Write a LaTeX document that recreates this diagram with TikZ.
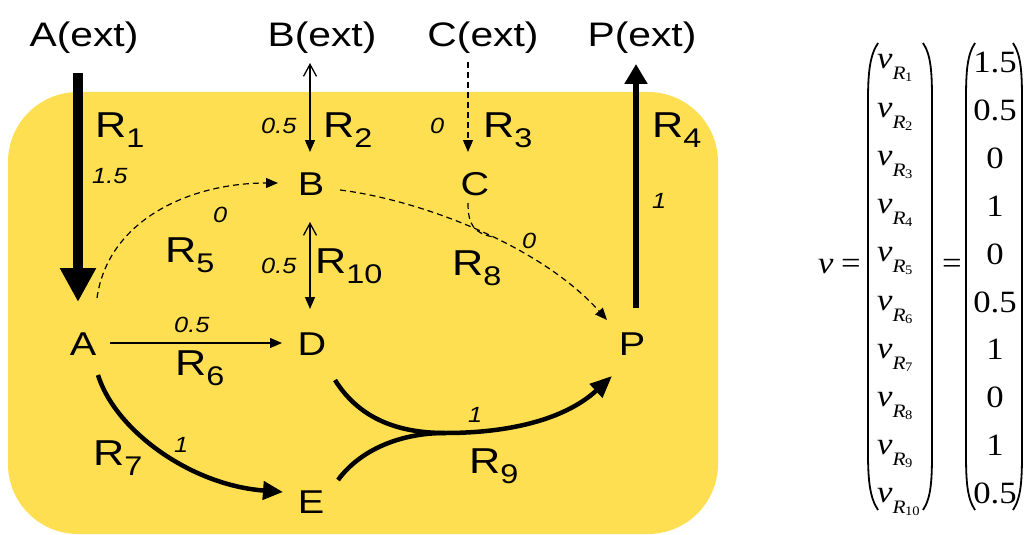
\documentclass[tikz,border=0pt]{standalone}
\usepackage{fontspec}
\setmainfont{Liberation Sans}
\newfontfamily\tms{Liberation Serif}
\usetikzlibrary{arrows.meta,calc}
\definecolor{cellbg}{HTML}{FFDF52}
\newcommand{\Rsub}[1]{R\raisebox{-10pt}{\fontsize{27}{30}\selectfont #1}}
\newcommand{\vR}[1]{{\tms\itshape v\raisebox{-11pt}{\fontsize{19}{20}\selectfont R\kern-0.5pt\raisebox{-2pt}{\upshape\fontsize{13}{14}\selectfont #1}}}}
\begin{document}
\begin{tikzpicture}[x=1pt,y=-1pt,
  ext/.style={font=\fontsize{34}{40}\selectfont, xscale=1.2, anchor=base, inner sep=0pt},
  met/.style={font=\fontsize{33}{40}\selectfont, xscale=1.2, anchor=base, inner sep=0pt},
  rl/.style={font=\fontsize{36}{40}\selectfont, xscale=1.2, anchor=base west, inner sep=0pt},
  flux/.style={font=\fontsize{22}{24}\selectfont\itshape, xscale=1.15, anchor=base west, inner sep=0pt},
  mt/.style={font=\tms\fontsize{31}{36}\selectfont, xscale=1.12, inner sep=0pt},
  thin/.style={line width=1.3pt},
  dsh/.style={line width=1.2pt, dash pattern=on 6pt off 4pt},
  open/.style={{Straight Barb[length=12pt,width=13pt]}-{Triangle[length=12pt,width=10pt]}},
  small/.style={-{Triangle[length=12pt,width=10pt]}},
  par/.style={line width=1.8pt}]
\useasboundingbox (0,0) rectangle (1026,535);
\fill[cellbg, rounded corners=70pt] (8,92) rectangle (718,534);

% external metabolites
\node[ext] (Aext) at (84,47) {A(ext)};
\node[ext] (Bext) at (322,47) {B(ext)};
\node[ext] (Cext) at (483,47) {C(ext)};
\node[ext] (Pext) at (642,47) {P(ext)};

% internal metabolites
\node[met] (A) at (83,355) {A};
\node[met] (D) at (312,355) {D};
\node[met] (P) at (632,355) {P};
\node[met] (B) at (311,195) {B};
\node[met] (C) at (475,195) {C};
\node[met] (E) at (311,513) {E};

% R1
\draw[line width=10pt, -{Triangle[length=34pt,width=34pt]}] ($(Aext.base)+(-6,26)$) -- ($(A.base)+(-5,-53)$);
% R2
\draw[thin, open] ($(Bext.base)+(-12,16)$) -- ($(B.base)+(-1,-43)$);
% R3
\draw[dsh, small] ($(Cext.base)+(-15,15)$) -- ($(C.base)+(-7,-43)$);
% R4
\draw[line width=5.5pt, -{Triangle[length=20pt,width=22pt]}] ($(P.base)+(4,-47)$) -- ($(Pext.base)+(-6,17)$);
% R5
\draw[dsh, small] ($(A.base)+(14,-57)$) .. controls (108,220) and (190,183) .. ($(B.base)+(-33,-12)$);
% R10
\draw[thin, open] ($(B.base)+(-1,27)$) -- ($(D.base)+(-2,-46)$);
% R6
\draw[thin, small] ($(A.base)+(27,-12)$) -- ($(D.base)+(-30,-12)$);
% R7
\draw[line width=4.5pt, -{Triangle[length=20pt,width=18pt]}] ($(A.base)+(15,20)$) .. controls (115,430) and (190,485) .. ($(E.base)+(-28,-21)$);
% R8
\coordinate (j8) at (493,237);
\draw[dsh, small] ($(B.base)+(29,-5)$) .. controls (420,200) and (540,245) .. ($(P.base)+(-25,-35)$);
\draw[dsh] ($(C.base)+(-7,8)$) .. controls (468,225) and (474,233) .. (j8);
% R9
\coordinate (j9) at (445,433);
\draw[line width=4.5pt] ($(D.base)+(23,25)$) .. controls (360,420) and (400,433) .. (j9);
\draw[line width=4.5pt] ($(E.base)+(27,-33)$) .. controls (360,450) and (400,433) .. (j9);
\draw[line width=4.5pt, -{Triangle[length=22pt,width=18pt]}] (j9) .. controls (520,433) and (570,415) .. ($(P.base)+(-20,21)$);

% reaction labels
\node[rl] (l1) at (95,137) {\Rsub{1}};
\node[rl] (l2) at (323,137) {\Rsub{2}};
\node[rl] (l3) at (483,137) {\Rsub{3}};
\node[rl] (l4) at (652,137) {\Rsub{4}};
\node[rl] (l5) at (165,262) {\Rsub{5}};
\node[rl] (l10) at (315,273) {\Rsub{10}};
\node[rl] (l8) at (452,275) {\Rsub{8}};
\node[rl] (l6) at (175,375) {\Rsub{6}};
\node[rl] (l7) at (93,465) {\Rsub{7}};
\node[rl] (l9) at (469,473) {\Rsub{9}};

% flux values
\node[flux] (f1) at (92,183) {1.5};
\node[flux] (f2) at (261,133) {0.5};
\node[flux] (f3) at (430,133) {0};
\node[flux] (f4) at (652,208) {1};
\node[flux] (f5) at (213,222) {0};
\node[flux] (f10) at (261,273) {0.5};
\node[flux] (f8) at (522,248) {0};
\node[flux] (f6) at (174,332) {0.5};
\node[flux] (f7) at (174,452) {1};
\node[flux] (f9) at (468,422) {1};

% flux vector
\node[mt, anchor=base west] (vv) at (818,273) {\itshape v};
\node[mt] (eq1) at (851,266) {=};
\node[mt] (eq2) at (952,266) {=};
\foreach \i in {1,...,10}{
  \node[mt, anchor=base west] (vr\i) at (877,{69+48.2*(\i-1)}) {\vR{\i}};
}
\foreach \i/\val in {1/1.5,2/0.5,3/0,4/1,5/0,6/0.5,7/1,8/0,9/1,10/0.5}{
  \node[mt, anchor=base] (val\i) at (995,{73+47.8*(\i-1)}) {\val};
}
\draw[par] (878,43) .. controls (870,55) and (868,72) .. (868,100) -- (868,453) .. controls (868,481) and (870,498) .. (878,510);
\draw[par] (923,43) .. controls (931,55) and (932,72) .. (932,100) -- (932,453) .. controls (932,481) and (931,498) .. (923,510);
\draw[par] (975,43) .. controls (967,55) and (966,72) .. (966,100) -- (966,453) .. controls (966,481) and (967,498) .. (975,510);
\draw[par] (1013,43) .. controls (1021,55) and (1022,72) .. (1022,100) -- (1022,453) .. controls (1022,481) and (1021,498) .. (1013,510);
\end{tikzpicture}
\end{document}
